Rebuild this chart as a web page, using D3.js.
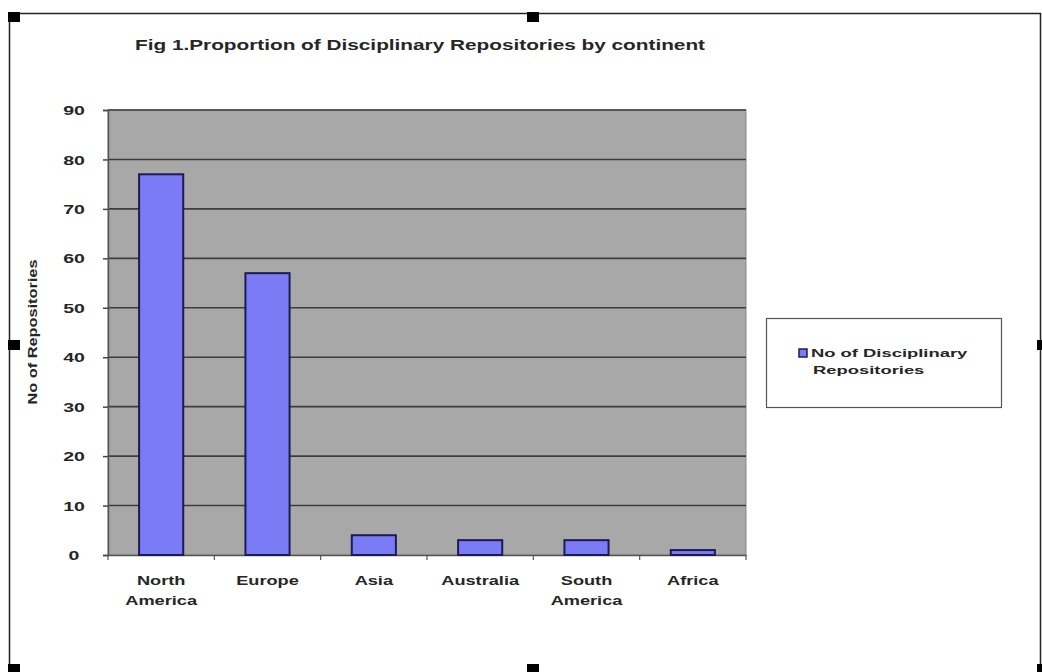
<!DOCTYPE html>
<html><head><meta charset="utf-8">
<script src="https://cdn.jsdelivr.net/npm/d3@7/dist/d3.min.js"></script>
<style>
html,body{margin:0;padding:0;background:#fff;}
svg{display:block;font-family:"Liberation Sans",Arial,sans-serif;}
</style></head><body>
<svg id="c" width="1042" height="672"></svg>
<script>
const categories = [["North","America"],["Europe"],["Asia"],["Australia"],["South","America"],["Africa"]];
const values = [77, 57, 4, 3, 3, 1];
const yTicks = [0,10,20,30,40,50,60,70,80,90];
const titleText = "Fig 1.Proportion of Disciplinary Repositories by continent";
const yTitle = "No of Repositories";
const legendLines = ["No of Disciplinary","Repositories"];

const svg = d3.select("#c");
const plot = {l:108, r:746, t:110, b:555};
const keys = categories.map(c => c.join(" "));
const x = d3.scaleBand().domain(keys).range([plot.l, plot.r]).paddingInner(0.585).paddingOuter(0.2925);
const y = d3.scaleLinear().domain([0,90]).range([plot.b, plot.t]);
const ink = "#262626";

// outer frame
svg.append("rect").attr("x",9.5).attr("y",13.5).attr("width",1031).attr("height",660)
  .attr("fill","none").attr("stroke","#222").attr("stroke-width",1.5);

// plot background
svg.append("rect").attr("x",plot.l).attr("y",plot.t).attr("width",plot.r-plot.l).attr("height",plot.b-plot.t)
  .attr("fill","#a8a8a8").attr("stroke","#8a8a8a").attr("stroke-width",1);

// gridlines
svg.append("g").selectAll("line").data(yTicks.filter(d=>d>0)).join("line")
  .attr("x1",plot.l).attr("x2",plot.r).attr("y1",d=>y(d)).attr("y2",d=>y(d))
  .attr("stroke","#3c3c3c").attr("stroke-width",1.6);

// y axis
const yAxis = svg.append("g").attr("transform",`translate(${plot.l},0)`)
  .call(d3.axisLeft(y).tickValues(yTicks).tickSize(5).tickFormat(d3.format("d")));
yAxis.select(".domain").attr("stroke","#555").attr("stroke-width",1.5);
yAxis.selectAll(".tick line").attr("stroke","#444").attr("stroke-width",1.5);
yAxis.selectAll(".tick text").attr("font-size",13).attr("font-weight","bold").attr("fill",ink)
  .attr("font-family","'Liberation Sans',Arial,sans-serif").attr("x",0).attr("dy","0.35em")
  .attr("text-anchor","middle").attr("transform","translate(-34,0) scale(1.5,1)");

// x axis
const xAxis = svg.append("g").attr("transform",`translate(0,${plot.b})`)
  .call(d3.axisBottom(x).tickSize(0).tickFormat(""));
xAxis.select(".domain").attr("stroke","#555").attr("stroke-width",1.5);
svg.append("g").selectAll("line").data(d3.range(keys.length+1)).join("line")
  .attr("x1",i=>plot.l + i*(plot.r-plot.l)/keys.length).attr("x2",i=>plot.l + i*(plot.r-plot.l)/keys.length)
  .attr("y1",plot.b).attr("y2",plot.b+5).attr("stroke","#555").attr("stroke-width",1.2);

// bars
svg.append("g").selectAll("rect").data(values).join("rect")
  .attr("x",(d,i)=>x(keys[i])).attr("width",x.bandwidth())
  .attr("y",d=>y(d)).attr("height",d=>y(0)-y(d))
  .attr("fill","#7b7bf5").attr("stroke","#1c1c55").attr("stroke-width",2);

// category labels
const cl = svg.append("g").selectAll("text").data(categories).join("text")
  .attr("transform",(d,i)=>`translate(${x(keys[i])+x.bandwidth()/2},585) scale(1.4,1)`)
  .attr("text-anchor","middle").attr("font-size",13).attr("font-weight","bold").attr("fill",ink);
cl.selectAll("tspan").data(d=>d).join("tspan")
  .attr("x",0).attr("dy",(d,i)=>i===0?0:20).text(d=>d);

// title
svg.append("text").attr("x",135).attr("y",50)
  .attr("font-size",14).attr("font-weight","bold").attr("fill",ink)
  .attr("textLength",570).attr("lengthAdjust","spacingAndGlyphs").text(titleText);

// y title
svg.append("text").attr("transform","translate(37,332) rotate(-90)").attr("text-anchor","middle")
  .attr("font-size",12).attr("font-weight","bold").attr("fill",ink)
  .attr("textLength",145).attr("lengthAdjust","spacingAndGlyphs").text(yTitle);

// legend
svg.append("rect").attr("x",766.5).attr("y",318.5).attr("width",235).attr("height",89)
  .attr("fill","#fff").attr("stroke","#555").attr("stroke-width",1.2);
svg.append("rect").attr("x",799).attr("y",349).attr("width",8).attr("height",8)
  .attr("fill","#7b7bf5").attr("stroke","#1c1c55").attr("stroke-width",1.5);
svg.append("g").selectAll("text").data(legendLines).join("text")
  .attr("transform",(d,i)=>`translate(${i===0?811:813},${357+i*17}) scale(1.6,1)`)
  .attr("font-size",11.5).attr("font-weight","bold").attr("fill",ink).text(d=>d);

// selection handles
const handles = [[8,12],[527,12],[8,340],[1037,340],[8,664],[527,664],[1037,664]];
svg.append("g").selectAll("rect").data(handles).join("rect")
  .attr("x",d=>d[0]).attr("y",d=>d[1]).attr("width",d=>d[0]>1000?5:12).attr("height",10).attr("fill","#000");
</script>
</body></html>
